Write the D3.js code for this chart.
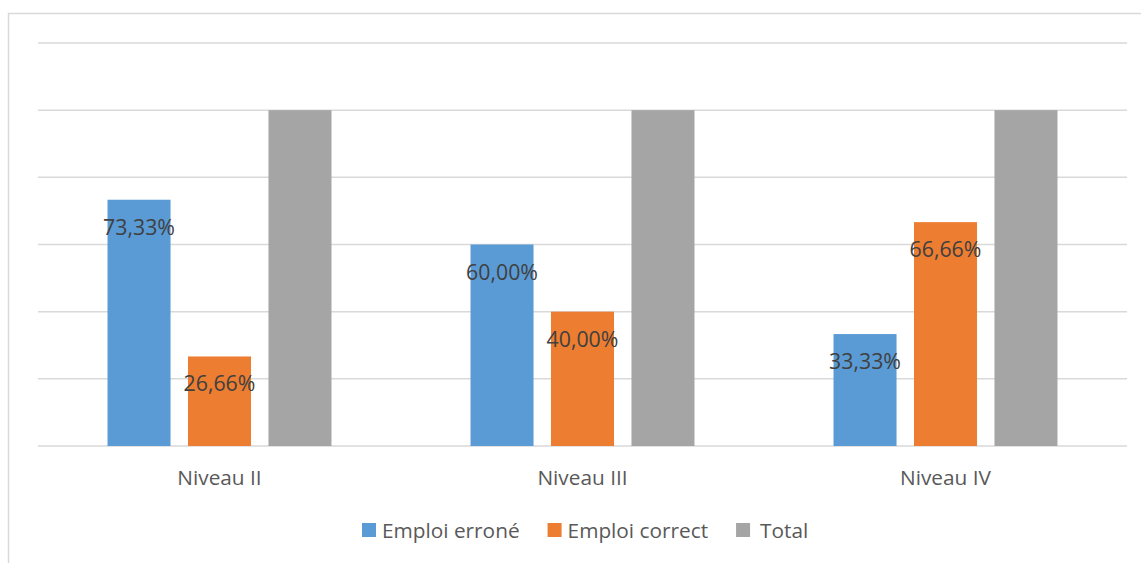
<!DOCTYPE html>
<html>
<head>
<meta charset="utf-8">
<script src="https://cdn.jsdelivr.net/npm/d3@7"></script>
<style>
  html, body { margin: 0; padding: 0; background: #ffffff; }
  svg { display: block; font-family: "Open Sans", "Noto Sans", sans-serif; }
</style>
</head>
<body>
<svg id="chart" width="1141" height="563"></svg>
<script>
// Categories and series
const categories = ["Niveau II", "Niveau III", "Niveau IV"];
const seriesNames = ["Emploi erroné", "Emploi correct", "Total"];
const emploiErrone = [73.33, 60.00, 33.33];
const emploiCorrect = [26.66, 40.00, 66.66];
const total = [100, 100, 100];
const gridTicks = [0, 20, 40, 60, 80, 100, 120];
const seriesColors = ["#5B9BD5", "#ED7D31", "#A5A5A5"];
const labelledSeries = [true, true, false];

const seriesValues = [emploiErrone, emploiCorrect, total];
const rows = categories.map((c, i) => ({
  category: c,
  values: seriesNames.map((s, k) => ({ series: s, k, value: seriesValues[k][i] }))
}));

const svg = d3.select("#chart");

// Outer chart frame
svg.append("rect")
  .attr("x", 8.5).attr("y", 13.5)
  .attr("width", 1150).attr("height", 570)
  .attr("fill", "none").attr("stroke", "#d9d9d9").attr("stroke-width", 1.5);

const plot = { left: 38, right: 1127, top: 43, bottom: 446 };

const y = d3.scaleLinear().domain([0, 120]).range([plot.bottom, plot.top]);
const x0 = d3.scaleBand().domain(categories)
  .range([plot.left, plot.right])
  .paddingInner(0.383).paddingOuter(0.1915);
const x1 = d3.scaleBand().domain(seriesNames)
  .range([0, x0.bandwidth()])
  .paddingInner(0.217).paddingOuter(0);

// Horizontal gridlines
svg.append("g").selectAll("line")
  .data(gridTicks)
  .join("line")
  .attr("x1", plot.left).attr("x2", plot.right)
  .attr("y1", d => y(d)).attr("y2", d => y(d))
  .attr("stroke", "#d9d9d9").attr("stroke-width", 1.5);

// Bars
const groups = svg.append("g").selectAll("g")
  .data(rows)
  .join("g")
  .attr("transform", d => `translate(${x0(d.category)},0)`);

groups.selectAll("rect")
  .data(d => d.values)
  .join("rect")
  .attr("x", d => x1(d.series))
  .attr("width", x1.bandwidth())
  .attr("y", d => y(d.value))
  .attr("height", d => y(0) - y(d.value))
  .attr("fill", d => seriesColors[d.k]);

// Value labels inside the top of each bar
const fmt = v => v.toFixed(2).replace(".", ",") + "%";
groups.selectAll("text.val")
  .data(d => d.values.filter(v => labelledSeries[v.k]))
  .join("text")
  .attr("class", "val")
  .attr("x", d => x1(d.series) + x1.bandwidth() / 2)
  .attr("y", d => y(d.value) + 35)
  .attr("text-anchor", "middle")
  .attr("font-size", 21.3)
  .attr("fill", "#404040")
  .text(d => fmt(d.value));

// Category axis
const xAxis = svg.append("g")
  .attr("transform", `translate(0,${plot.bottom})`)
  .call(d3.axisBottom(x0).tickSize(0).tickPadding(0));
xAxis.select(".domain").remove();
xAxis.selectAll("text")
  .attr("y", 39)
  .attr("dy", 0)
  .attr("font-family", "Open Sans, Noto Sans, sans-serif")
  .attr("font-size", 20.8)
  .attr("fill", "#595959");

// Legend
const legend = svg.append("g");
let lx = 362;
const legendGap = [6, 6, 10];
seriesNames.forEach((name, k) => {
  legend.append("rect")
    .attr("x", lx).attr("y", 523)
    .attr("width", 14).attr("height", 14)
    .attr("fill", seriesColors[k]);
  const t = legend.append("text")
    .attr("x", lx + 14 + legendGap[k]).attr("y", 538)
    .attr("font-size", 20.8)
    .attr("fill", "#595959")
    .text(name);
  lx = lx + 14 + legendGap[k] + t.node().getComputedTextLength() + 28;
});
</script>
</body>
</html>
